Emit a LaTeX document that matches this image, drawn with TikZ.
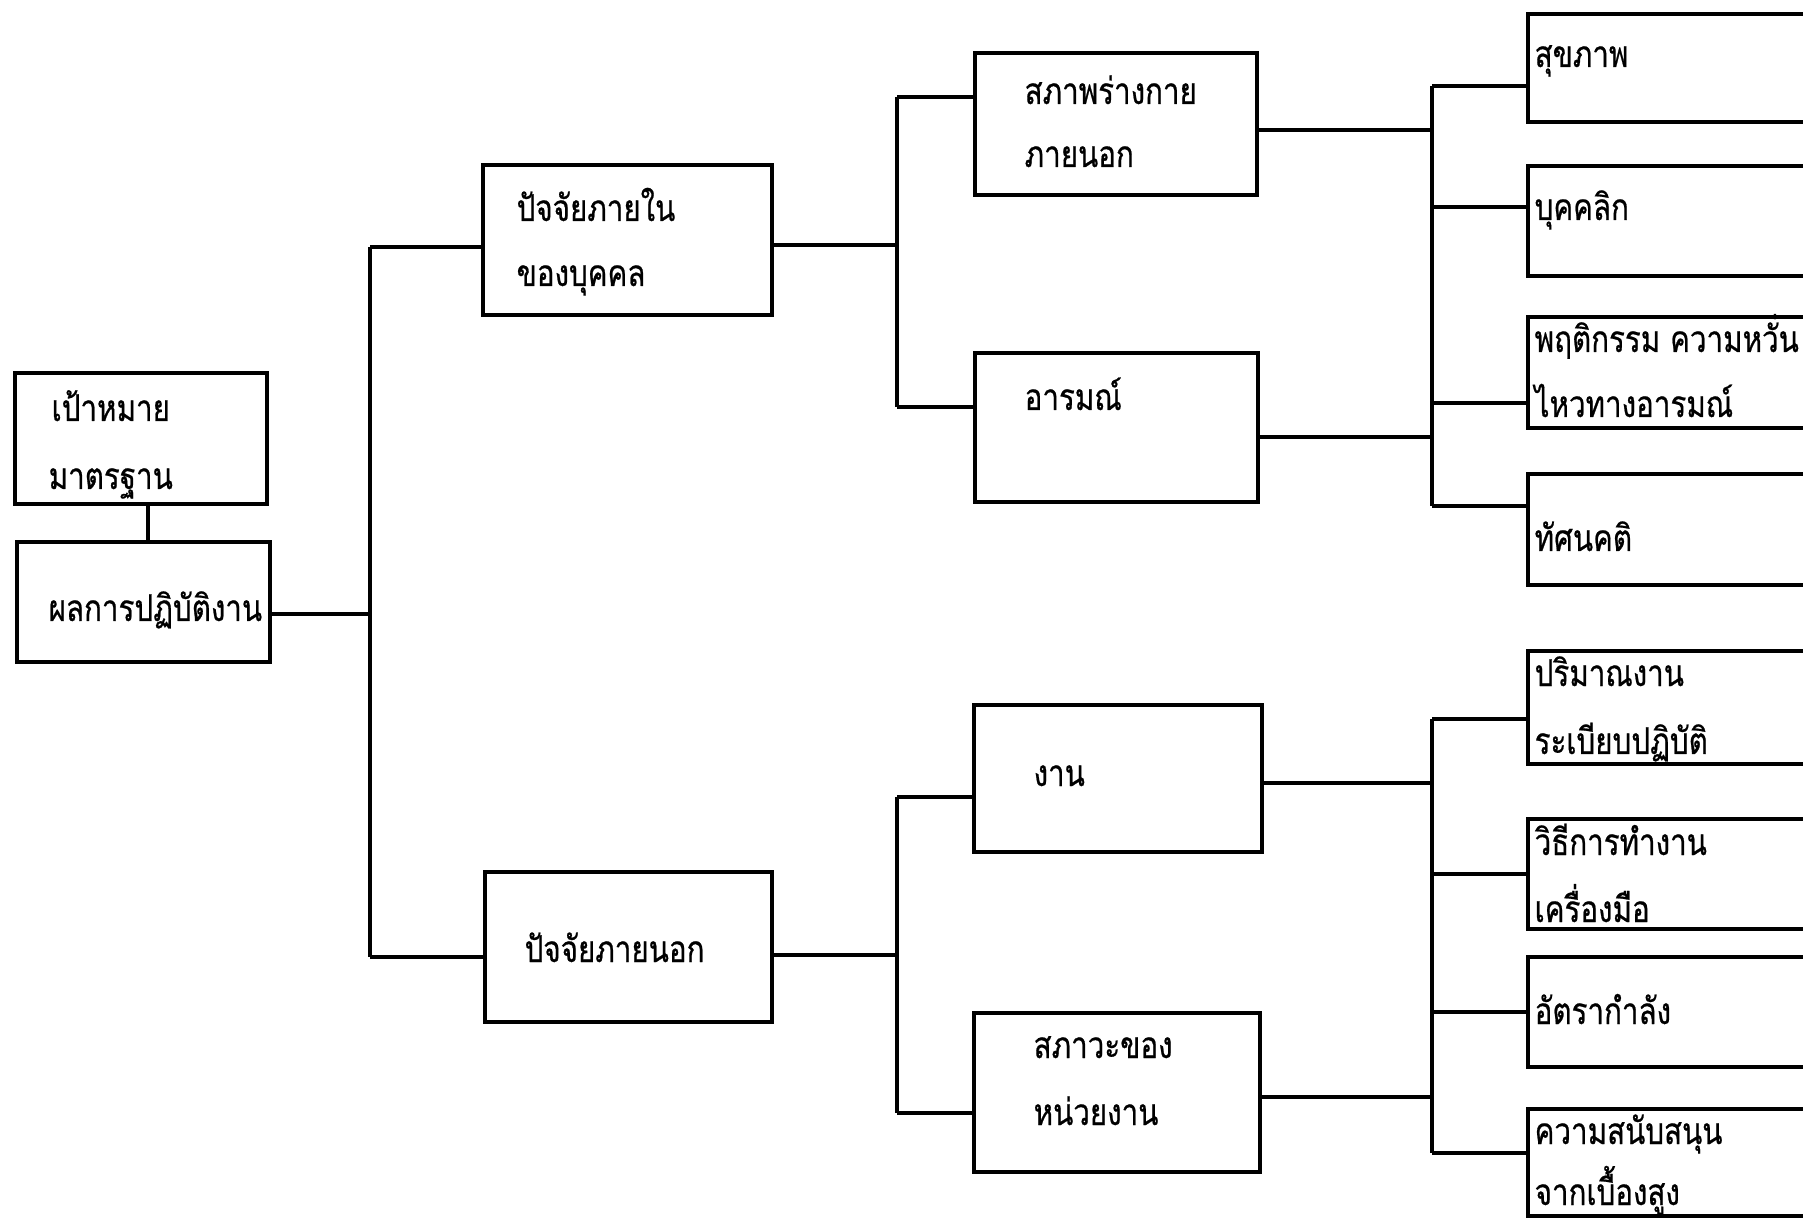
\documentclass[tikz,border=0pt]{standalone}
\usepackage{fontspec}
\newfontfamily\thaifont[Script=Thai,FakeStretch=0.8,FakeBold=0.6]{Loma}
\usetikzlibrary{fit}

\tikzset{
  box/.style={draw, rectangle, inner sep=0pt},
  txt/.style={anchor=base west, inner sep=0pt, font=\thaifont\fontsize{10.5}{12}\selectfont}
}

\begin{document}
\begin{tikzpicture}[x=0.01cm, y=-0.01cm, line width=0.95pt]
\useasboundingbox (0,0) rectangle (1803,1219);
\clip (0,0) rectangle (1803,1219);

% left column
\node[box, fit={(15,373) (267,504)}]   (goal)  {};
\node[box, fit={(17,542) (270,662)}]   (perf)  {};
% second column
\node[box, fit={(483,165) (772,315)}]  (inner) {};
\node[box, fit={(485,872) (772,1022)}] (outer) {};
% third column
\node[box, fit={(975,53) (1257,195)}]    (body) {};
\node[box, fit={(975,353) (1258,502)}]   (emo)  {};
\node[box, fit={(974,705) (1262,852)}]   (work) {};
\node[box, fit={(974,1013) (1260,1172)}] (unit) {};
% right column, cut by the page edge
\foreach \n/\top/\bot in {r1/14/122, r2/166/276, r3/317/428, r4/474/585,
                          r5/651/764, r6/819/929, r7/957/1067, r8/1109/1216}
  \node[box, fit={(1528,\top) (1850,\bot)}] (\n) {};

% texts (base lines)
\node[txt] (goal-a)  at (50,421)   {เป้าหมาย};
\node[txt] (goal-b)  at (47,489)   {มาตรฐาน};
\node[txt] (perf-a)  at (47,621)   {ผลการปฏิบัติงาน};
\node[txt] (inner-a) at (515,221)  {ปัจจัยภายใน};
\node[txt] (inner-b) at (515,286)  {ของบุคคล};
\node[txt] (outer-a) at (523,962)  {ปัจจัยภายนอก};
\node[txt] (body-a)  at (1023,104) {สภาพร่างกาย};
\node[txt] (body-b)  at (1023,167) {ภายนอก};
\node[txt] (emo-a)   at (1023,410) {อารมณ์};
\node[txt] (work-a)  at (1032,786) {งาน};
\node[txt] (unit-a)  at (1032,1058) {สภาวะของ};
\node[txt] (unit-b)  at (1032,1125) {หน่วยงาน};
\node[txt] (r1-a) at (1533,67)   {สุขภาพ};
\node[txt] (r2-a) at (1533,220)  {บุคคลิก};
\node[txt] (r3-a) at (1533,352)  {พฤติกรรม ความหวั่น};
\node[txt] (r3-b) at (1533,417)  {ไหวทางอารมณ์};
\node[txt] (r4-a) at (1533,551)  {ทัศนคติ};
\node[txt] (r5-a) at (1533,686)  {ปริมาณงาน};
\node[txt] (r5-b) at (1533,754)  {ระเบียบปฏิบัติ};
\node[txt] (r6-a) at (1533,855)  {วิธีการทำงาน};
\node[txt] (r6-b) at (1533,922)  {เครื่องมือ};
\node[txt] (r7-a) at (1533,1024) {อัตรากำลัง};
\node[txt] (r8-a) at (1533,1144) {ความสนับสนุน};
\node[txt] (r8-b) at (1533,1205) {จากเบื้องสูง};

% junction points
\coordinate (s0) at (148,504);
\coordinate (s1) at (370,247);  \coordinate (s1m) at (370,614);  \coordinate (s1b) at (370,957);
\coordinate (s2) at (897,97);   \coordinate (s2m) at (897,245);  \coordinate (s2b) at (897,407);
\coordinate (s3) at (897,797);  \coordinate (s3m) at (897,955);  \coordinate (s3b) at (897,1113);

% connectors
\draw (s0) -- (s0 |- perf.north);
\draw (s1) -- (s1b);
\draw (perf.east |- s1m) -- (s1m);
\draw (inner.west |- s1) -- (s1);
\draw (outer.west |- s1b) -- (s1b);

\draw (s2) -- (s2b);
\draw (inner.east |- s2m) -- (s2m);
\draw (body.west |- s2) -- (s2);
\draw (emo.west |- s2b) -- (s2b);

\draw (s3) -- (s3b);
\draw (outer.east |- s3m) -- (s3m);
\draw (work.west |- s3) -- (s3);
\draw (unit.west |- s3b) -- (s3b);

% right trunks
\coordinate (s4) at (1432,86);  \coordinate (s4b) at (1432,506);
\coordinate (s5) at (1432,719); \coordinate (s5b) at (1432,1153);
\draw (s4) -- (s4b);
\draw (s5) -- (s5b);
\coordinate (e1) at (1432,130);  \draw (body.east |- e1) -- (e1);
\coordinate (e2) at (1432,437);  \draw (emo.east |- e2) -- (e2);
\coordinate (e3) at (1432,783);  \draw (work.east |- e3) -- (e3);
\coordinate (e4) at (1432,1097); \draw (unit.east |- e4) -- (e4);
\foreach \n/\y in {r1/86, r2/207, r3/403, r4/506, r5/719, r6/874, r7/1012, r8/1153} {
  \coordinate (j\n) at (1432,\y);
  \draw (j\n) -- (\n.west |- j\n);
}

\end{tikzpicture}
\end{document}
